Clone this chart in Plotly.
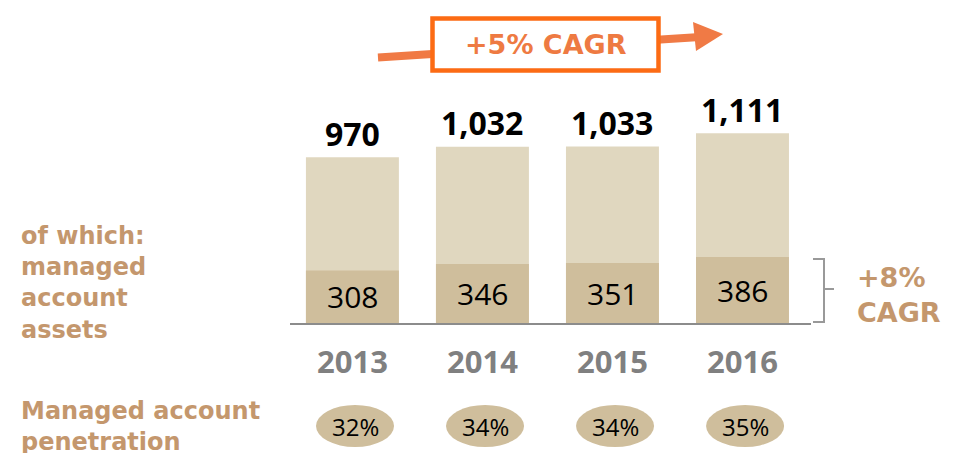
import plotly.graph_objects as go

years = ["2013", "2014", "2015", "2016"]
total_assets = [970, 1032, 1033, 1111]
managed_assets = [308, 346, 351, 386]
penetration = ["32%", "34%", "34%", "35%"]
total_labels = ["970", "1,032", "1,033", "1,111"]

W, H = 953, 453
L, R, T, B = 290, 811, 101, 323  # plot area in pixels
PW, PH = R - L, B - T

def px(x):
    return (x - L) / PW

def py(y):
    return (B - y) / PH

LIGHT = "#e0d7bf"
DARK = "#cfbe9c"
TAN = "#c4976d"
GRAY = "#808080"
ORANGE_TXT = "#ee7a42"
ORANGE_BOX = "#fc6b14"
ORANGE_ARROW = "#f07a45"
FONT = "Open Sans"
WIDE = "DejaVu Sans"

fig = go.Figure()
fig.add_trace(go.Bar(x=years, y=total_assets, marker=dict(color=LIGHT, line=dict(width=0)),
                     width=0.715, hoverinfo="skip"))
fig.add_trace(go.Bar(x=years, y=managed_assets, marker=dict(color=DARK, line=dict(width=0)),
                     width=0.715, hoverinfo="skip"))

annotations = []
shapes = []

for i, yr in enumerate(years):
    annotations.append(dict(x=i, y=total_assets[i], xref="x", yref="y", text=total_labels[i],
                            showarrow=False, yanchor="middle", yshift=24,
                            font=dict(family=FONT, size=32, color="black", weight="bold")))
    annotations.append(dict(x=i, y=managed_assets[i] / 2, xref="x", yref="y", text=str(managed_assets[i]),
                            showarrow=False, yanchor="middle", yshift=0,
                            font=dict(family=FONT, size=30, color="black")))
    annotations.append(dict(x=i, y=py(361), xref="x", yref="paper", text=yr,
                            showarrow=False, yanchor="middle",
                            font=dict(family=FONT, size=31, color=GRAY, weight="bold")))
    shapes.append(dict(type="circle", xref="x", yref="paper",
                       x0=i - 0.30 + 0.02, x1=i + 0.30 + 0.02, y0=py(447), y1=py(405),
                       fillcolor=DARK, line=dict(width=0), layer="below"))
    annotations.append(dict(x=i + 0.02, y=py(426), xref="x", yref="paper", text=penetration[i],
                            showarrow=False, yanchor="middle",
                            font=dict(family=FONT, size=24, color="black")))

# left labels
annotations.append(dict(x=px(19), y=py(220), xref="paper", yref="paper", xanchor="left", yanchor="top",
                        align="left", showarrow=False,
                        text="of which:<br>managed<br>account<br>assets",
                        font=dict(family=WIDE, size=24, color=TAN, weight="bold")))
annotations.append(dict(x=px(19), y=py(395), xref="paper", yref="paper", xanchor="left", yanchor="top",
                        align="left", showarrow=False,
                        text="Managed account<br>penetration",
                        font=dict(family=WIDE, size=24, color=TAN, weight="bold")))

# +8% CAGR
annotations.append(dict(x=px(855), y=py(295), xref="paper", yref="paper", xanchor="left", yanchor="middle",
                        align="left", showarrow=False, text="+8%<br>CAGR",
                        font=dict(family=WIDE, size=27, color=TAN, weight="bold")))

# bracket
bx0, bx1, bx2 = 813, 824, 834
path = (f"M {px(bx0)},{py(259)} L {px(bx1)},{py(259)} L {px(bx1)},{py(322)} L {px(bx0)},{py(322)} "
        f"M {px(bx1)},{py(289)} L {px(bx2)},{py(289)}")
shapes.append(dict(type="path", xref="paper", yref="paper", path=path,
                   line=dict(color="#999999", width=2)))

# top arrow + box
shapes.append(dict(type="line", xref="paper", yref="paper", x0=px(378), y0=py(57.5), x1=px(700), y1=py(37),
                   line=dict(color=ORANGE_ARROW, width=8)))
shapes.append(dict(type="path", xref="paper", yref="paper",
                   path=f"M {px(723)},{py(34)} L {px(693)},{py(22)} L {px(696)},{py(51)} Z",
                   fillcolor=ORANGE_ARROW, line=dict(width=0)))
shapes.append(dict(type="rect", xref="paper", yref="paper", x0=px(432.5), x1=px(658.5),
                   y0=py(70.5), y1=py(18.5), fillcolor="white",
                   line=dict(color=ORANGE_BOX, width=4.5)))
annotations.append(dict(x=px(546), y=py(45), xref="paper", yref="paper", showarrow=False,
                        yanchor="middle", text="+5% CAGR",
                        font=dict(family=WIDE, size=27, color=ORANGE_TXT, weight="bold")))

fig.update_layout(
    width=W, height=H,
    margin=dict(l=L, r=W - R, t=T, b=H - B, pad=0),
    paper_bgcolor="white", plot_bgcolor="white",
    barmode="overlay", showlegend=False,
    xaxis=dict(type="category", range=[-0.48, 3.527], showticklabels=False, ticks="", showgrid=False,
               zeroline=False, showline=True, linecolor="#8c8c8c", linewidth=2, fixedrange=True),
    yaxis=dict(range=[0, 1300], visible=False, fixedrange=True),
    annotations=annotations, shapes=shapes,
)

fig.write_html("out.html", config={"displayModeBar": False},
               post_script="document.body.style.margin='0';")
